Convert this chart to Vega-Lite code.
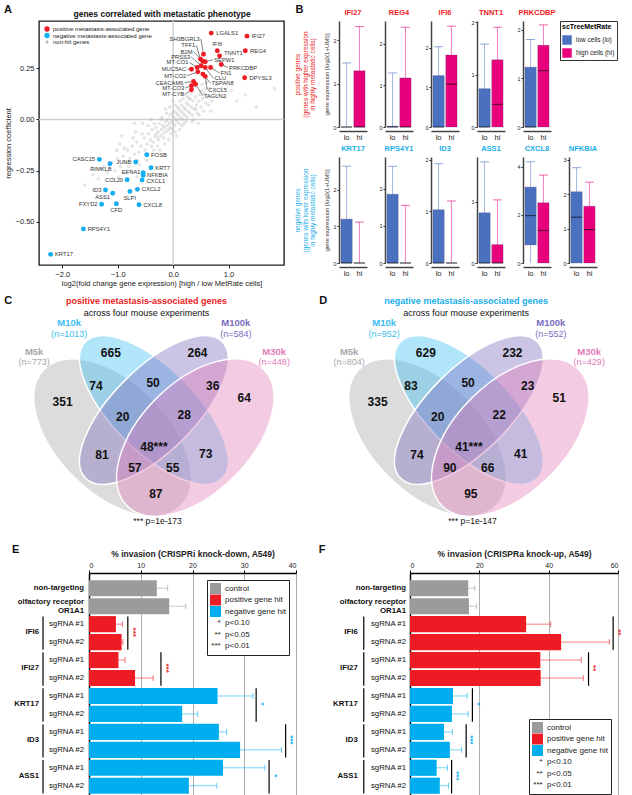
{
"$schema": "https://vega.github.io/schema/vega-lite/v6.json",
"padding": {"left": 3, "top": 3, "right": 0, "bottom": 0},
"config": {
  "font": "Liberation Sans",
  "view": {"stroke": null},
  "axis": {"labelFont": "Liberation Sans", "titleFont": "Liberation Sans", "labelColor": "#222222", "titleColor": "#222222", "domainColor": "#222222", "tickColor": "#222222", "titleFontWeight": "normal", "grid": false},
  "legend": {"labelFont": "Liberation Sans", "titleFont": "Liberation Sans", "labelColor": "#222222"},
  "header": {"labelFont": "Liberation Sans"},
  "title": {"font": "Liberation Sans", "color": "#111111"},
  "text": {"font": "Liberation Sans", "color": "#222222"}
},
"datasets": {
  "cloud": [
    {"x":-0.58,"y":-0.13},{"x":-0.52,"y":-0.09},{"x":-0.47,"y":-0.12},{"x":-0.44,"y":-0.07},{"x":-0.41,"y":-0.10},{"x":-0.38,"y":-0.05},{"x":-0.36,"y":-0.11},{"x":-0.33,"y":-0.08},{"x":-0.31,"y":-0.04},{"x":-0.29,"y":-0.09},
    {"x":-0.27,"y":-0.06},{"x":-0.25,"y":-0.02},{"x":-0.23,"y":-0.08},{"x":-0.21,"y":-0.05},{"x":-0.19,"y":-0.03},{"x":-0.18,"y":-0.07},{"x":-0.16,"y":-0.04},{"x":-0.14,"y":-0.01},{"x":-0.13,"y":-0.06},{"x":-0.11,"y":-0.03},
    {"x":-0.10,"y":0.00},{"x":-0.09,"y":-0.05},{"x":-0.07,"y":-0.02},{"x":-0.06,"y":0.02},{"x":-0.05,"y":-0.04},{"x":-0.03,"y":-0.01},{"x":-0.02,"y":0.03},{"x":0.00,"y":-0.02},{"x":0.01,"y":0.01},{"x":0.02,"y":0.04},
    {"x":0.03,"y":-0.03},{"x":0.05,"y":0.00},{"x":0.06,"y":0.03},{"x":0.07,"y":-0.01},{"x":0.09,"y":0.02},{"x":0.10,"y":0.05},{"x":0.11,"y":-0.02},{"x":0.13,"y":0.01},{"x":0.14,"y":0.04},{"x":0.15,"y":0.07},
    {"x":0.17,"y":0.00},{"x":0.18,"y":0.03},{"x":0.19,"y":0.06},{"x":0.21,"y":0.02},{"x":0.22,"y":0.05},{"x":0.24,"y":0.08},{"x":0.25,"y":0.01},{"x":0.27,"y":0.04},{"x":0.28,"y":0.07},{"x":0.30,"y":0.03},
    {"x":0.31,"y":0.10},{"x":0.33,"y":0.06},{"x":0.35,"y":0.02},{"x":0.36,"y":0.09},{"x":0.38,"y":0.05},{"x":0.40,"y":0.11},{"x":0.42,"y":0.07},{"x":0.44,"y":0.03},{"x":0.46,"y":0.09},{"x":0.48,"y":0.12},
    {"x":0.50,"y":0.06},{"x":0.53,"y":0.10},{"x":0.56,"y":0.13},{"x":0.59,"y":0.08},{"x":0.62,"y":0.11},{"x":-0.62,"y":-0.16},{"x":-0.66,"y":-0.11},{"x":-0.70,"y":-0.17},{"x":-0.74,"y":-0.13},{"x":-0.78,"y":-0.19},
    {"x":0.04,"y":0.07},{"x":-0.04,"y":-0.07},{"x":0.12,"y":-0.05},{"x":-0.12,"y":0.03},{"x":0.20,"y":-0.02},{"x":-0.20,"y":0.01},{"x":0.26,"y":0.11},{"x":-0.28,"y":-0.13},{"x":0.34,"y":-0.01},{"x":-0.35,"y":-0.15},
    {"x":-0.82,"y":-0.15},{"x":-0.86,"y":-0.21},{"x":-0.90,"y":-0.18},{"x":-0.95,"y":-0.23},{"x":-1.00,"y":-0.19},{"x":-1.05,"y":-0.25},{"x":-1.10,"y":-0.21},{"x":-1.18,"y":-0.26},{"x":-1.25,"y":-0.23},{"x":-1.35,"y":-0.29},
    {"x":-0.60,"y":-0.22},{"x":-0.68,"y":-0.06},{"x":-0.55,"y":-0.02},{"x":-0.48,"y":-0.20},{"x":-0.40,"y":0.00},{"x":-0.84,"y":-0.26},{"x":-0.96,"y":-0.12},{"x":-0.75,"y":-0.25},{"x":-1.45,"y":-0.27},{"x":-0.65,"y":-0.28},
    {"x":0.66,"y":0.15},{"x":0.70,"y":0.09},{"x":0.74,"y":0.13},{"x":0.78,"y":0.17},{"x":0.82,"y":0.12},{"x":0.88,"y":0.15},{"x":0.95,"y":0.11},{"x":1.05,"y":0.14},{"x":1.15,"y":0.09},{"x":1.30,"y":0.12},
    {"x":0.60,"y":0.18},{"x":0.52,"y":0.17},{"x":0.45,"y":-0.02},{"x":0.68,"y":0.04},{"x":0.40,"y":0.16},{"x":1.83,"y":0.15},{"x":1.50,"y":0.06},{"x":-1.60,"y":-0.32},{"x":0.20,"y":0.12},{"x":-0.15,"y":-0.12},
    {"x":-0.50,"y":-0.15},{"x":-0.45,"y":-0.03},{"x":-0.39,"y":-0.13},{"x":-0.34,"y":-0.02},{"x":-0.30,"y":-0.07},{"x":-0.26,"y":-0.10},{"x":-0.22,"y":0.00},{"x":-0.17,"y":-0.09},{"x":-0.08,"y":-0.10},{"x":-0.01,"y":-0.05},
    {"x":0.04,"y":-0.06},{"x":0.08,"y":0.06},{"x":0.12,"y":0.09},{"x":0.16,"y":-0.03},{"x":0.23,"y":-0.01},{"x":0.29,"y":0.10},{"x":0.32,"y":0.13},{"x":0.37,"y":0.00},{"x":0.41,"y":0.05},{"x":0.47,"y":0.02},
    {"x":0.51,"y":0.14},{"x":0.55,"y":0.04},{"x":0.58,"y":0.15},{"x":0.64,"y":0.07},{"x":-0.56,"y":-0.07},{"x":-0.64,"y":-0.20},{"x":-0.72,"y":-0.09},{"x":-0.80,"y":-0.23},{"x":-0.88,"y":-0.14},{"x":-0.98,"y":-0.28},
    {"x":-1.02,"y":-0.15},{"x":-1.08,"y":-0.29},{"x":-0.93,"y":-0.08},{"x":-0.70,"y":-0.02},{"x":-0.06,"y":0.06},{"x":0.00,"y":0.09},{"x":-0.14,"y":0.05},{"x":0.06,"y":-0.08},{"x":-0.24,"y":-0.15},{"x":0.18,"y":0.10}
  ],
  "genes": [
    {"g":"LGALS1","c":"pos","x":0.687,"y":0.421,"lx":0.76,"ly":0.421,"s":"R","ld":0},
    {"g":"IFI27","c":"pos","x":1.332,"y":0.406,"lx":1.40,"ly":0.406,"s":"R","ld":0},
    {"g":"REG4","c":"pos","x":1.302,"y":0.335,"lx":1.37,"ly":0.335,"s":"R","ld":0},
    {"g":"DPYSL3","c":"pos","x":1.29,"y":0.203,"lx":1.36,"ly":0.203,"s":"R","ld":0},
    {"g":"IFI6","c":"pos","x":0.796,"y":0.335,"lx":0.796,"ly":0.368,"s":"C","ld":0},
    {"g":"TNNT1","c":"pos","x":0.838,"y":0.31,"lx":0.9,"ly":0.325,"s":"R","ld":0},
    {"g":"PRKCDBP","c":"pos","x":0.868,"y":0.268,"lx":0.99,"ly":0.253,"s":"R","ld":1},
    {"g":"SH3BGRL3","c":"pos","x":0.548,"y":0.318,"lx":0.5,"ly":0.393,"s":"L","ld":1},
    {"g":"TFF1","c":"pos","x":0.494,"y":0.294,"lx":0.416,"ly":0.362,"s":"L","ld":1},
    {"g":"B2M","c":"pos","x":0.536,"y":0.284,"lx":0.368,"ly":0.331,"s":"L","ld":1},
    {"g":"PRSS3","c":"pos","x":0.506,"y":0.262,"lx":0.325,"ly":0.305,"s":"L","ld":1},
    {"g":"MT-CO1","c":"pos","x":0.434,"y":0.253,"lx":0.295,"ly":0.278,"s":"L","ld":1},
    {"g":"MUC5AC","c":"pos","x":0.331,"y":0.245,"lx":0.253,"ly":0.245,"s":"L","ld":1},
    {"g":"MT-CO2","c":"pos","x":0.446,"y":0.232,"lx":0.253,"ly":0.213,"s":"L","ld":1},
    {"g":"CEACAM6","c":"pos","x":0.368,"y":0.185,"lx":0.205,"ly":0.18,"s":"L","ld":1},
    {"g":"MT-CO3","c":"pos","x":0.331,"y":0.164,"lx":0.217,"ly":0.153,"s":"L","ld":1},
    {"g":"MT-CYB","c":"pos","x":0.331,"y":0.145,"lx":0.217,"ly":0.123,"s":"L","ld":1},
    {"g":"SEPW1","c":"pos","x":0.579,"y":0.281,"lx":0.723,"ly":0.291,"s":"R","ld":1},
    {"g":"FN1","c":"pos","x":0.675,"y":0.253,"lx":0.838,"ly":0.226,"s":"R","ld":1},
    {"g":"CLU","c":"pos","x":0.579,"y":0.253,"lx":0.73,"ly":0.2,"s":"R","ld":1},
    {"g":"TSPAN8","c":"pos","x":0.536,"y":0.221,"lx":0.675,"ly":0.177,"s":"R","ld":1},
    {"g":"CXCL5","c":"pos","x":0.579,"y":0.21,"lx":0.615,"ly":0.145,"s":"R","ld":1},
    {"g":"TAGLN2","c":"pos","x":0.404,"y":0.172,"lx":0.536,"ly":0.115,"s":"R","ld":1},
    {"g":"FOSB","c":"neg","x":-0.476,"y":-0.172,"lx":-0.416,"ly":-0.172,"s":"R","ld":0},
    {"g":"CASC15","c":"neg","x":-1.33,"y":-0.195,"lx":-1.39,"ly":-0.195,"s":"L","ld":0},
    {"g":"JUNB","c":"neg","x":-0.675,"y":-0.208,"lx":-0.735,"ly":-0.208,"s":"L","ld":0},
    {"g":"RIMKLB","c":"neg","x":-1.14,"y":-0.216,"lx":-1.09,"ly":-0.24,"s":"L","ld":0},
    {"g":"KRT7","c":"neg","x":-0.4,"y":-0.236,"lx":-0.34,"ly":-0.236,"s":"R","ld":0},
    {"g":"EFNA1","c":"neg","x":-0.54,"y":-0.26,"lx":-0.57,"ly":-0.255,"s":"L","ld":0},
    {"g":"NFKBIA","c":"neg","x":-0.54,"y":-0.273,"lx":-0.49,"ly":-0.27,"s":"R","ld":0},
    {"g":"CCL20","c":"neg","x":-0.83,"y":-0.294,"lx":-0.885,"ly":-0.294,"s":"L","ld":0},
    {"g":"CXCL1","c":"neg","x":-0.56,"y":-0.296,"lx":-0.5,"ly":-0.301,"s":"R","ld":0},
    {"g":"ID3","c":"neg","x":-1.22,"y":-0.344,"lx":-1.275,"ly":-0.344,"s":"L","ld":0},
    {"g":"CXCL2","c":"neg","x":-0.645,"y":-0.341,"lx":-0.585,"ly":-0.341,"s":"R","ld":0},
    {"g":"ASS1","c":"neg","x":-1.09,"y":-0.36,"lx":-1.12,"ly":-0.38,"s":"L","ld":0},
    {"g":"SLPI","c":"neg","x":-0.78,"y":-0.351,"lx":-0.783,"ly":-0.382,"s":"C","ld":0},
    {"g":"FXYD2","c":"neg","x":-1.29,"y":-0.414,"lx":-1.345,"ly":-0.414,"s":"L","ld":0},
    {"g":"CFD","c":"neg","x":-1.025,"y":-0.411,"lx":-1.025,"ly":-0.442,"s":"C","ld":0},
    {"g":"CXCL8","c":"neg","x":-0.615,"y":-0.416,"lx":-0.555,"ly":-0.416,"s":"R","ld":0},
    {"g":"RPS4Y1","c":"neg","x":-1.62,"y":-0.534,"lx":-1.56,"ly":-0.534,"s":"R","ld":0},
    {"g":"KRT17","c":"neg","x":-2.21,"y":-0.658,"lx":-2.15,"ly":-0.658,"s":"R","ld":0}
  ],
  "box": [
    {"s":"pos","gene":"IFI27","grp":"lo","lw":0,"q1":0,"med":0,"q3":0,"uw":1.48,"ymax":2.45},
    {"s":"pos","gene":"IFI27","grp":"hi","lw":0,"q1":0,"med":0,"q3":1.3,"uw":2.32,"ymax":2.45},
    {"s":"pos","gene":"REG4","grp":"lo","lw":0,"q1":0,"med":0,"q3":0.02,"uw":1.3,"ymax":2.55},
    {"s":"pos","gene":"REG4","grp":"hi","lw":0,"q1":0,"med":0,"q3":1.18,"uw":2.4,"ymax":2.55},
    {"s":"pos","gene":"IFI6","grp":"lo","lw":0,"q1":0,"med":0,"q3":1.3,"uw":2.03,"ymax":2.68},
    {"s":"pos","gene":"IFI6","grp":"hi","lw":0,"q1":0,"med":1.08,"q3":1.82,"uw":2.55,"ymax":2.68},
    {"s":"pos","gene":"TNNT1","grp":"lo","lw":0,"q1":0,"med":0,"q3":0.73,"uw":1.58,"ymax":2.02},
    {"s":"pos","gene":"TNNT1","grp":"hi","lw":0,"q1":0,"med":0.43,"q3":1.28,"uw":1.9,"ymax":2.02},
    {"s":"pos","gene":"PRKCDBP","grp":"lo","lw":0,"q1":0,"med":0,"q3":1.23,"uw":1.8,"ymax":2.18},
    {"s":"pos","gene":"PRKCDBP","grp":"hi","lw":0,"q1":0,"med":1.16,"q3":1.68,"uw":2.1,"ymax":2.18},
    {"s":"neg","gene":"KRT17","grp":"lo","lw":0,"q1":0,"med":0,"q3":1.2,"uw":2.65,"ymax":2.9},
    {"s":"neg","gene":"KRT17","grp":"hi","lw":0,"q1":0,"med":0,"q3":0,"uw":1.12,"ymax":2.9},
    {"s":"neg","gene":"RPS4Y1","grp":"lo","lw":0,"q1":0,"med":0,"q3":1.85,"uw":2.6,"ymax":2.85},
    {"s":"neg","gene":"RPS4Y1","grp":"hi","lw":0,"q1":0,"med":0,"q3":0,"uw":1.55,"ymax":2.85},
    {"s":"neg","gene":"ID3","grp":"lo","lw":0,"q1":0,"med":0,"q3":1.03,"uw":1.92,"ymax":2.05},
    {"s":"neg","gene":"ID3","grp":"hi","lw":0,"q1":0,"med":0,"q3":0,"uw":1.2,"ymax":2.05},
    {"s":"neg","gene":"ASS1","grp":"lo","lw":0,"q1":0,"med":0,"q3":0.82,"uw":1.65,"ymax":1.73},
    {"s":"neg","gene":"ASS1","grp":"hi","lw":0,"q1":0,"med":0,"q3":0.3,"uw":1.03,"ymax":1.73},
    {"s":"neg","gene":"CXCL8","grp":"lo","lw":0,"q1":0.75,"med":1.97,"q3":3.15,"uw":4.2,"ymax":4.4},
    {"s":"neg","gene":"CXCL8","grp":"hi","lw":0,"q1":0,"med":1.35,"q3":2.5,"uw":3.65,"ymax":4.4},
    {"s":"neg","gene":"NFKBIA","grp":"lo","lw":0,"q1":0,"med":1.33,"q3":2.07,"uw":2.77,"ymax":3.08},
    {"s":"neg","gene":"NFKBIA","grp":"hi","lw":0,"q1":0,"med":0.97,"q3":1.65,"uw":2.35,"ymax":3.08}
  ],
  "venn": [
    {"p":"C","k":"ell","set":"M5k","x":0.35,"y":0.47},
    {"p":"C","k":"ell","set":"M10k","x":0.5,"y":0.57},
    {"p":"C","k":"ell","set":"M100k","x":0.5,"y":0.57},
    {"p":"C","k":"ell","set":"M30k","x":0.65,"y":0.47},
    {"p":"D","k":"ell","set":"M5k","x":0.35,"y":0.47},
    {"p":"D","k":"ell","set":"M10k","x":0.5,"y":0.57},
    {"p":"D","k":"ell","set":"M100k","x":0.5,"y":0.57},
    {"p":"D","k":"ell","set":"M30k","x":0.65,"y":0.47},
    {"p":"C","k":"num","t":"351","x":0.169,"y":0.597},
    {"p":"C","k":"num","t":"665","x":0.344,"y":0.776},
    {"p":"C","k":"num","t":"264","x":0.658,"y":0.776},
    {"p":"C","k":"num","t":"64","x":0.827,"y":0.613},
    {"p":"C","k":"num","t":"74","x":0.29,"y":0.658},
    {"p":"C","k":"num","t":"50","x":0.497,"y":0.668},
    {"p":"C","k":"num","t":"36","x":0.713,"y":0.658},
    {"p":"C","k":"num","t":"81","x":0.312,"y":0.408},
    {"p":"C","k":"num","t":"20","x":0.387,"y":0.543},
    {"p":"C","k":"num","t":"28","x":0.61,"y":0.553},
    {"p":"C","k":"num","t":"73","x":0.688,"y":0.41},
    {"p":"C","k":"num","t":"57","x":0.431,"y":0.358},
    {"p":"C","k":"num","t":"55","x":0.568,"y":0.358},
    {"p":"C","k":"num","t":"48***","x":0.5,"y":0.434},
    {"p":"C","k":"num","t":"87","x":0.507,"y":0.265},
    {"p":"D","k":"num","t":"335","x":0.169,"y":0.597},
    {"p":"D","k":"num","t":"629","x":0.344,"y":0.776},
    {"p":"D","k":"num","t":"232","x":0.658,"y":0.776},
    {"p":"D","k":"num","t":"51","x":0.827,"y":0.613},
    {"p":"D","k":"num","t":"83","x":0.29,"y":0.658},
    {"p":"D","k":"num","t":"50","x":0.497,"y":0.668},
    {"p":"D","k":"num","t":"23","x":0.713,"y":0.658},
    {"p":"D","k":"num","t":"74","x":0.312,"y":0.408},
    {"p":"D","k":"num","t":"20","x":0.387,"y":0.543},
    {"p":"D","k":"num","t":"22","x":0.61,"y":0.553},
    {"p":"D","k":"num","t":"41","x":0.688,"y":0.41},
    {"p":"D","k":"num","t":"90","x":0.431,"y":0.358},
    {"p":"D","k":"num","t":"66","x":0.568,"y":0.358},
    {"p":"D","k":"num","t":"41***","x":0.5,"y":0.434},
    {"p":"D","k":"num","t":"95","x":0.507,"y":0.265},
    {"p":"C","k":"set","set":"M5k","t":"M5k","x":0.066,"y":0.781},
    {"p":"C","k":"set","set":"M10k","t":"M10k","x":0.193,"y":0.884},
    {"p":"C","k":"set","set":"M100k","t":"M100k","x":0.797,"y":0.884},
    {"p":"C","k":"set","set":"M30k","t":"M30k","x":0.936,"y":0.781},
    {"p":"C","k":"n","set":"M5k","t":"(n=773)","x":0.066,"y":0.745},
    {"p":"C","k":"n","set":"M10k","t":"(n=1013)","x":0.193,"y":0.845},
    {"p":"C","k":"n","set":"M100k","t":"(n=584)","x":0.797,"y":0.845},
    {"p":"C","k":"n","set":"M30k","t":"(n=448)","x":0.936,"y":0.745},
    {"p":"D","k":"set","set":"M5k","t":"M5k","x":0.066,"y":0.781},
    {"p":"D","k":"set","set":"M10k","t":"M10k","x":0.193,"y":0.884},
    {"p":"D","k":"set","set":"M100k","t":"M100k","x":0.797,"y":0.884},
    {"p":"D","k":"set","set":"M30k","t":"M30k","x":0.936,"y":0.781},
    {"p":"D","k":"n","set":"M5k","t":"(n=804)","x":0.066,"y":0.745},
    {"p":"D","k":"n","set":"M10k","t":"(n=952)","x":0.193,"y":0.845},
    {"p":"D","k":"n","set":"M100k","t":"(n=552)","x":0.797,"y":0.845},
    {"p":"D","k":"n","set":"M30k","t":"(n=429)","x":0.936,"y":0.745},
    {"p":"C","k":"head","set":"pos","t":"positive metastasis-associated genes","x":0.473,"y":0.965},
    {"p":"D","k":"head","set":"neg","t":"negative metastasis-associated genes","x":0.49,"y":0.965},
    {"p":"C","k":"sub","t":"across four mouse experiments","x":0.473,"y":0.92},
    {"p":"D","k":"sub","t":"across four mouse experiments","x":0.49,"y":0.92},
    {"p":"C","k":"pv","t":"*** p=1e-173","x":0.513,"y":0.167},
    {"p":"D","k":"pv","t":"*** p=1e-147","x":0.513,"y":0.167},
    {"p":"C","k":"let","t":"C","x":-0.042,"y":0.966},
    {"p":"D","k":"let","t":"D","x":-0.042,"y":0.966}
  ],
  "inv": [
    {"p":"E","row":"nt","lab":"non-targeting","grp":"control","val":13.1,"err":15.2},
    {"p":"E","row":"or","lab":"olfactory receptor\nOR1A1","grp":"control","val":15.5,"err":18.7},
    {"p":"E","row":"IFI6_1","lab":"sgRNA #1","grp":"positive gene hit","val":5.2,"err":6.45},
    {"p":"E","row":"IFI6_2","lab":"sgRNA #2","grp":"positive gene hit","val":6.3,"err":6.55},
    {"p":"E","row":"IFI27_1","lab":"sgRNA #1","grp":"positive gene hit","val":5.7,"err":6.95},
    {"p":"E","row":"IFI27_2","lab":"sgRNA #2","grp":"positive gene hit","val":8.9,"err":12.4},
    {"p":"E","row":"KRT17_1","lab":"sgRNA #1","grp":"negative gene hit","val":24.85,"err":31.7},
    {"p":"E","row":"KRT17_2","lab":"sgRNA #2","grp":"negative gene hit","val":18.0,"err":21.0},
    {"p":"E","row":"ID3_1","lab":"sgRNA #1","grp":"negative gene hit","val":25.1,"err":26.6},
    {"p":"E","row":"ID3_2","lab":"sgRNA #2","grp":"negative gene hit","val":29.2,"err":37.2},
    {"p":"E","row":"ASS1_1","lab":"sgRNA #1","grp":"negative gene hit","val":25.9,"err":34.0},
    {"p":"E","row":"ASS1_2","lab":"sgRNA #2","grp":"negative gene hit","val":19.3,"err":24.7},
    {"p":"F","row":"nt","lab":"non-targeting","grp":"control","val":16.8,"err":18.7},
    {"p":"F","row":"or","lab":"olfactory receptor\nOR1A1","grp":"control","val":17.0,"err":19.2},
    {"p":"F","row":"IFI6_1","lab":"sgRNA #1","grp":"positive gene hit","val":33.5,"err":40.6},
    {"p":"F","row":"IFI6_2","lab":"sgRNA #2","grp":"positive gene hit","val":43.6,"err":57.5},
    {"p":"F","row":"IFI27_1","lab":"sgRNA #1","grp":"positive gene hit","val":37.6,"err":49.4},
    {"p":"F","row":"IFI27_2","lab":"sgRNA #2","grp":"positive gene hit","val":37.7,"err":50.0},
    {"p":"F","row":"KRT17_1","lab":"sgRNA #1","grp":"negative gene hit","val":12.4,"err":16.5},
    {"p":"F","row":"KRT17_2","lab":"sgRNA #2","grp":"negative gene hit","val":12.1,"err":16.8},
    {"p":"F","row":"ID3_1","lab":"sgRNA #1","grp":"negative gene hit","val":9.8,"err":12.2},
    {"p":"F","row":"ID3_2","lab":"sgRNA #2","grp":"negative gene hit","val":11.5,"err":14.9},
    {"p":"F","row":"ASS1_1","lab":"sgRNA #1","grp":"negative gene hit","val":7.7,"err":10.8},
    {"p":"F","row":"ASS1_2","lab":"sgRNA #2","grp":"negative gene hit","val":8.6,"err":11.1}
  ],
  "grpl": [
    {"gene":"IFI6","r1":"IFI6_1","r2":"IFI6_2"},
    {"gene":"IFI27","r1":"IFI27_1","r2":"IFI27_2"},
    {"gene":"KRT17","r1":"KRT17_1","r2":"KRT17_2"},
    {"gene":"ID3","r1":"ID3_1","r2":"ID3_2"},
    {"gene":"ASS1","r1":"ASS1_1","r2":"ASS1_2"}
  ],
  "sig": [
    {"p":"E","r1":"IFI6_1","r2":"IFI6_2","sx":7.5,"tx":8.5,"stars":"***","grp":"positive gene hit"},
    {"p":"E","r1":"IFI27_1","r2":"IFI27_2","sx":13.9,"tx":14.8,"stars":"***","grp":"positive gene hit"},
    {"p":"E","r1":"KRT17_1","r2":"KRT17_2","sx":32.3,"tx":33.2,"stars":"*","grp":"negative gene hit"},
    {"p":"E","r1":"ID3_1","r2":"ID3_2","sx":38.0,"tx":38.9,"stars":"***","grp":"negative gene hit"},
    {"p":"E","r1":"ASS1_1","r2":"ASS1_2","sx":34.8,"tx":35.7,"stars":"*","grp":"negative gene hit"},
    {"p":"F","r1":"IFI6_1","r2":"IFI6_2","sx":58.6,"tx":59.9,"stars":"**","grp":"positive gene hit"},
    {"p":"F","r1":"IFI27_1","r2":"IFI27_2","sx":51.5,"tx":52.8,"stars":"**","grp":"positive gene hit"},
    {"p":"F","r1":"KRT17_1","r2":"KRT17_2","sx":18.0,"tx":19.2,"stars":"*","grp":"negative gene hit"},
    {"p":"F","r1":"ID3_1","r2":"ID3_2","sx":16.2,"tx":17.4,"stars":"***","grp":"negative gene hit"},
    {"p":"F","r1":"ASS1_1","r2":"ASS1_2","sx":12.0,"tx":13.2,"stars":"***","grp":"negative gene hit"}
  ]
},
"concat": [
  {
    "concat": [
      {
        "width": 245, "height": 244,
        "view": {"stroke": "#222222", "strokeWidth": 1.4},
        "layer": [
          {"data": {"values": [{"x": 0}]}, "mark": {"type": "rule", "color": "#d0d0d0", "strokeWidth": 1.5}, "encoding": {"x": {"field": "x", "type": "quantitative"}}},
          {"data": {"values": [{"y": 0}]}, "mark": {"type": "rule", "color": "#d0d0d0", "strokeWidth": 1.5}, "encoding": {"y": {"field": "y", "type": "quantitative"}}},
          {"data": {"name": "cloud"}, "mark": {"type": "circle", "size": 13, "opacity": 1, "fillOpacity": 0.35},
           "encoding": {
             "x": {"field": "x", "type": "quantitative", "scale": {"domain": [-2.42, 2.0], "nice": false, "zero": false}, "axis": {"values": [-2, -1, 0, 1], "title": "log2(fold change gene expression) [high / low MetRate cells]", "labelFontSize": 7.5, "titleFontSize": 7.5, "tickSize": 3, "titlePadding": 2, "domain": false}},
             "y": {"field": "y", "type": "quantitative", "scale": {"domain": [-0.71, 0.48], "nice": false, "zero": false}, "axis": {"values": [-0.5, -0.25, 0, 0.25], "format": ".2f", "title": "regression coefficient", "labelFontSize": 7.5, "titleFontSize": 7.5, "tickSize": 3, "titlePadding": 3, "domain": false}},
             "color": {"datum": "non"}
           }},
          {"data": {"name": "genes"}, "transform": [{"filter": "datum.ld == 1"}], "mark": {"type": "rule", "color": "#333333", "strokeWidth": 0.6},
           "encoding": {"x": {"field": "x", "type": "quantitative"}, "y": {"field": "y", "type": "quantitative"}, "x2": {"field": "lx"}, "y2": {"field": "ly"}}},
          {"data": {"name": "genes"}, "mark": {"type": "circle", "size": 24, "opacity": 1},
           "encoding": {"x": {"field": "x", "type": "quantitative"}, "y": {"field": "y", "type": "quantitative"},
             "color": {"field": "c", "type": "nominal", "scale": {"domain": ["pos", "neg", "non"], "range": ["#ee1c25", "#14aef0", "#b4b4b4"]},
               "legend": {"orient": "top-left", "title": null, "offset": 4, "padding": 1, "rowPadding": 0.5, "labelFontSize": 6, "symbolSize": 28, "symbolOpacity": 1, "labelOffset": 3, "symbolStrokeWidth": 0, "symbolType": "circle",
                 "labelExpr": "datum.label == 'pos' ? 'positive metastasis-associated gene' : datum.label == 'neg' ? 'negative metastasis-associated gene' : 'non-hit genes'",
                 "encode": {"symbols": {"update": {"size": {"signal": "datum.value === 'non' ? 9 : 28"}, "opacity": {"value": 1}, "fillOpacity": {"value": 1}}}}}}}},
          {"data": {"name": "genes"}, "transform": [{"filter": "datum.s === 'L'"}], "mark": {"type": "text", "align": "right", "baseline": "middle", "dx": -1, "fontSize": 5.8, "color": "#333333"},
           "encoding": {"x": {"field": "lx", "type": "quantitative"}, "y": {"field": "ly", "type": "quantitative"}, "text": {"field": "g"}}},
          {"data": {"name": "genes"}, "transform": [{"filter": "datum.s === 'R'"}], "mark": {"type": "text", "align": "left", "baseline": "middle", "dx": 1, "fontSize": 5.8, "color": "#333333"},
           "encoding": {"x": {"field": "lx", "type": "quantitative"}, "y": {"field": "ly", "type": "quantitative"}, "text": {"field": "g"}}},
          {"data": {"name": "genes"}, "transform": [{"filter": "datum.s === 'C'"}], "mark": {"type": "text", "align": "center", "baseline": "middle", "fontSize": 5.8, "color": "#333333"},
           "encoding": {"x": {"field": "lx", "type": "quantitative"}, "y": {"field": "ly", "type": "quantitative"}, "text": {"field": "g"}}},
          {"data": {"values": [{}]}, "mark": {"type": "text", "text": "A", "align": "left", "baseline": "middle", "fontSize": 11, "fontWeight": "bold", "color": "#111111"},
           "encoding": {"x": {"datum": -3.05}, "y": {"datum": 0.533}}},
          {"data": {"values": [{}]}, "mark": {"type": "text", "text": "genes correlated with metastatic phenotype", "align": "center", "baseline": "middle", "fontSize": 8.5, "fontWeight": "bold", "color": "#111111"},
           "encoding": {"x": {"datum": -0.2}, "y": {"datum": 0.513}}}
        ]
      },
      {
        "title": {"text": "B", "anchor": "start", "frame": "bounds", "fontSize": 11, "fontWeight": "bold", "offset": -6},
        "vconcat": [
          {
            "data": {"name": "box"},
            "transform": [{"filter": "datum.s === 'pos'"}],
            "title": {"text": ["positive genes", "(genes with higher expression", "in highly metastatic cells)"], "subtitle": "gene expression [log2(1+UMI)]", "orient": "left", "anchor": "middle", "color": "#ee1c25", "fontSize": 6.5, "fontWeight": "normal", "lineHeight": 7.5, "subtitleColor": "#333333", "subtitleFontSize": 6, "subtitlePadding": 7, "offset": 3},
            "facet": {"column": {"field": "gene", "type": "nominal", "sort": ["IFI27", "REG4", "IFI6", "TNNT1", "PRKCDBP"], "header": {"title": null, "labelColor": "#ee1c25", "labelFontWeight": "bold", "labelFontSize": 7.5, "labelPadding": 2}}},
            "spacing": 11,
            "resolve": {"scale": {"y": "independent"}},
            "spec": {
              "width": 28, "height": 106,
              "encoding": {"x": {"field": "grp", "type": "nominal", "sort": ["lo", "hi"], "scale": {"paddingInner": 0.12, "paddingOuter": 0.15}, "axis": {"title": null, "labelAngle": 0, "labelFontSize": 7.5, "ticks": false, "labelPadding": 2, "domainColor": "#444444", "domainWidth": 1.5}}},
              "layer": [
                {"mark": {"type": "rule", "strokeWidth": 1, "strokeOpacity": 0.5},
                 "encoding": {"y": {"field": "lw", "type": "quantitative", "scale": {"nice": false, "zero": true}, "axis": {"title": null, "labelFontSize": 5.5, "tickSize": 2, "tickMinStep": 1, "tickCount": 3, "domainColor": "#444444", "domainWidth": 1.5, "labelPadding": 1}}, "y2": {"field": "uw"},
                   "color": {"field": "grp", "type": "nominal", "scale": {"domain": ["lo", "hi"], "range": ["#4a70c0", "#e8007d"]},
                     "legend": {"title": "scTreeMetRate", "orient": "right", "offset": 4, "titleFontSize": 7, "titleFontWeight": "bold", "labelFontSize": 6.5, "symbolType": "square", "symbolSize": 90, "symbolStrokeWidth": 0, "symbolOpacity": 1, "strokeColor": "#333333", "padding": 2, "rowPadding": 3,
                       "labelExpr": "datum.label == 'lo' ? 'low cells (lo)' : 'high cells (hi)'",
                       "encode": {"symbols": {"update": {"opacity": {"value": 1}, "fillOpacity": {"value": 1}}}}}}}},
                {"mark": {"type": "tick", "size": 9, "thickness": 1, "fillOpacity": 0.6}, "encoding": {"y": {"field": "uw", "type": "quantitative"}, "color": {"field": "grp", "type": "nominal"}}},
                {"mark": {"type": "bar", "stroke": "#333366", "strokeWidth": 0.6, "strokeOpacity": 0.4, "opacity": 1}, "encoding": {"y": {"field": "q1", "type": "quantitative"}, "y2": {"field": "q3"}, "color": {"field": "grp", "type": "nominal"}}},
                {"mark": {"type": "tick", "size": 11, "thickness": 1.2, "color": "#000000", "opacity": 0.55}, "encoding": {"y": {"field": "med", "type": "quantitative"}}},
                {"mark": {"type": "point", "opacity": 0}, "encoding": {"y": {"field": "ymax", "type": "quantitative"}}}
              ]
            }
          },
          {
            "data": {"name": "box"},
            "transform": [{"filter": "datum.s === 'neg'"}],
            "title": {"text": ["negative genes", "(genes with lower expression", "in highly metastatic cells)"], "subtitle": "gene expression [log2(1+UMI)]", "orient": "left", "anchor": "middle", "color": "#19aee8", "fontSize": 6.5, "fontWeight": "normal", "lineHeight": 7.5, "subtitleColor": "#333333", "subtitleFontSize": 6, "subtitlePadding": 7, "offset": 3},
            "facet": {"column": {"field": "gene", "type": "nominal", "sort": ["KRT17", "RPS4Y1", "ID3", "ASS1", "CXCL8", "NFKBIA"], "header": {"title": null, "labelColor": "#19aee8", "labelFontWeight": "bold", "labelFontSize": 7.5, "labelPadding": 2}}},
            "spacing": 11,
            "resolve": {"scale": {"y": "independent"}},
            "spec": {
              "width": 28, "height": 106,
              "encoding": {"x": {"field": "grp", "type": "nominal", "sort": ["lo", "hi"], "scale": {"paddingInner": 0.12, "paddingOuter": 0.15}, "axis": {"title": null, "labelAngle": 0, "labelFontSize": 7.5, "ticks": false, "labelPadding": 2, "domainColor": "#444444", "domainWidth": 1.5}}},
              "layer": [
                {"mark": {"type": "rule", "strokeWidth": 1, "strokeOpacity": 0.5},
                 "encoding": {"y": {"field": "lw", "type": "quantitative", "scale": {"nice": false, "zero": true}, "axis": {"title": null, "labelFontSize": 5.5, "tickSize": 2, "tickMinStep": 1, "tickCount": 3, "domainColor": "#444444", "domainWidth": 1.5, "labelPadding": 1}}, "y2": {"field": "uw"},
                   "color": {"field": "grp", "type": "nominal", "scale": {"domain": ["lo", "hi"], "range": ["#4a70c0", "#e8007d"]}, "legend": null}}},
                {"mark": {"type": "tick", "size": 9, "thickness": 1, "fillOpacity": 0.6}, "encoding": {"y": {"field": "uw", "type": "quantitative"}, "color": {"field": "grp", "type": "nominal", "legend": null}}},
                {"mark": {"type": "bar", "stroke": "#333366", "strokeWidth": 0.6, "strokeOpacity": 0.4}, "encoding": {"y": {"field": "q1", "type": "quantitative"}, "y2": {"field": "q3"}, "color": {"field": "grp", "type": "nominal", "legend": null}}},
                {"mark": {"type": "tick", "size": 11, "thickness": 1.2, "color": "#000000", "opacity": 0.55}, "encoding": {"y": {"field": "med", "type": "quantitative"}}},
                {"mark": {"type": "point", "opacity": 0}, "encoding": {"y": {"field": "ymax", "type": "quantitative"}}}
              ]
            }
          }
        ],
        "spacing": 3,
        "resolve": {"scale": {"y": "independent"}, "legend": {"color": "independent"}}
      }
    ],
    "columns": 2,
    "align": "none",
    "spacing": 9,
    "resolve": {"scale": {"color": "independent", "x": "independent", "y": "independent"}, "legend": {"color": "independent"}}
  },
  {
    "data": {"name": "venn"},
    "facet": {"column": {"field": "p", "type": "nominal", "header": {"labels": false, "title": null}}},
    "spacing": 15,
    "spec": {
      "width": 265, "height": 244,
      "encoding": {
        "x": {"field": "x", "type": "quantitative", "scale": {"domain": [0.0837, 1.0438], "nice": false, "zero": false}, "axis": null},
        "y": {"field": "y", "type": "quantitative", "scale": {"domain": [0.106, 0.99], "nice": false, "zero": false}, "axis": null}
      },
      "layer": [
        {"transform": [{"filter": "datum.k === 'ell'"}],
         "mark": {"type": "point", "filled": true, "opacity": 1, "fillOpacity": 0.4, "stroke": "#ffffff", "strokeWidth": 1.5, "strokeOpacity": 1},
         "encoding": {
           "color": {"field": "set", "type": "nominal", "scale": {"domain": ["M5k", "M10k", "M100k", "M30k", "pos", "neg"], "range": ["#a8a8a8", "#3dbdf0", "#7c6cbf", "#e27cba", "#ee1c25", "#19aee9"]}, "legend": null},
           "shape": {"field": "set", "type": "nominal", "scale": {"domain": ["M5k", "M10k", "M100k", "M30k"], "range": [
             "M 1 0 C 1 0.3156 0.5523 0.5714 0 0.5714 C -0.5523 0.5714 -1 0.3156 -1 0 C -1 -0.3156 -0.5523 -0.5714 0 -0.5714 C 0.5523 -0.5714 1 -0.3156 1 0 Z",
             "M 1 0 C 1 0.2367 0.5523 0.4286 0 0.4286 C -0.5523 0.4286 -1 0.2367 -1 0 C -1 -0.2367 -0.5523 -0.4286 0 -0.4286 C 0.5523 -0.4286 1 -0.2367 1 0 Z",
             "M 1 0 C 1 0.2367 0.5523 0.4286 0 0.4286 C -0.5523 0.4286 -1 0.2367 -1 0 C -1 -0.2367 -0.5523 -0.4286 0 -0.4286 C 0.5523 -0.4286 1 -0.2367 1 0 Z",
             "M 1 0 C 1 0.3156 0.5523 0.5714 0 0.5714 C -0.5523 0.5714 -1 0.3156 -1 0 C -1 -0.3156 -0.5523 -0.5714 0 -0.5714 C 0.5523 -0.5714 1 -0.3156 1 0 Z"]}, "legend": null},
           "size": {"value": 37326},
           "angle": {"condition": {"test": "datum.set === 'M5k' || datum.set === 'M10k'", "value": 45}, "value": -45}
         }},
        {"transform": [{"filter": "datum.k === 'num'"}], "mark": {"type": "text", "fontSize": 12, "fontWeight": "bold", "color": "#111111", "baseline": "middle"}, "encoding": {"text": {"field": "t"}}},
        {"transform": [{"filter": "datum.k === 'set'"}], "mark": {"type": "text", "fontSize": 9.5, "fontWeight": "bold", "baseline": "middle"}, "encoding": {"text": {"field": "t"}, "color": {"field": "set", "type": "nominal", "legend": null}}},
        {"transform": [{"filter": "datum.k === 'n'"}], "mark": {"type": "text", "fontSize": 9, "baseline": "middle"}, "encoding": {"text": {"field": "t"}, "color": {"field": "set", "type": "nominal", "legend": null}}},
        {"transform": [{"filter": "datum.k === 'head'"}], "mark": {"type": "text", "fontSize": 9, "fontWeight": "bold", "baseline": "middle"}, "encoding": {"text": {"field": "t"}, "color": {"field": "set", "type": "nominal", "legend": null}}},
        {"transform": [{"filter": "datum.k === 'sub'"}], "mark": {"type": "text", "fontSize": 9, "color": "#111111", "baseline": "middle"}, "encoding": {"text": {"field": "t"}}},
        {"transform": [{"filter": "datum.k === 'pv'"}], "mark": {"type": "text", "fontSize": 8.5, "color": "#111111", "baseline": "middle"}, "encoding": {"text": {"field": "t"}}},
        {"transform": [{"filter": "datum.k === 'let'"}], "mark": {"type": "text", "fontSize": 11, "fontWeight": "bold", "color": "#111111", "baseline": "middle", "align": "left"}, "encoding": {"text": {"field": "t"}}}
      ]
    }
  },
  {
    "hconcat": [
      {
        "width": 49, "height": 228,
        "encoding": {
          "y": {"field": "row", "type": "nominal", "scale": {"domain": ["nt", "or", "IFI6_1", "IFI6_2", "IFI27_1", "IFI27_2", "KRT17_1", "KRT17_2", "ID3_1", "ID3_2", "ASS1_1", "ASS1_2"], "paddingInner": 0.1, "paddingOuter": 0.4}, "axis": null}
        },
        "layer": [
          {"data": {"name": "inv"}, "transform": [{"filter": "datum.p === 'E' && datum.row !== 'nt' && datum.row !== 'or'"}],
           "mark": {"type": "text", "align": "right", "baseline": "middle", "dx": -4, "fontSize": 7.8, "color": "#111111"},
           "encoding": {"x": {"datum": 1, "type": "quantitative", "scale": {"domain": [0, 1], "nice": false, "zero": false}, "axis": null}, "text": {"field": "lab"}}},
          {"data": {"name": "inv"}, "transform": [{"filter": "datum.p === 'E' && datum.row === 'nt'"}],
           "mark": {"type": "text", "align": "right", "baseline": "middle", "dx": -4, "fontSize": 7.8, "fontWeight": "bold", "color": "#111111"},
           "encoding": {"x": {"datum": 1, "type": "quantitative"}, "text": {"field": "lab"}}},
          {"data": {"name": "inv"}, "transform": [{"filter": "datum.p === 'E' && datum.row === 'or'"}],
           "mark": {"type": "text", "align": "right", "baseline": "middle", "dx": -4, "dy": -4.5, "lineBreak": "\n", "lineHeight": 9, "fontSize": 7.8, "fontWeight": "bold", "color": "#111111"},
           "encoding": {"x": {"datum": 1, "type": "quantitative"}, "text": {"field": "lab"}}},
          {"data": {"name": "grpl"}, "mark": {"type": "rule", "strokeWidth": 1.2, "color": "#000000"},
           "encoding": {"x": {"datum": 0.082, "type": "quantitative"}, "y": {"field": "r1", "type": "nominal", "bandPosition": 0.02}, "y2": {"field": "r2", "bandPosition": 0.98}}},
          {"data": {"name": "grpl"}, "mark": {"type": "text", "align": "right", "baseline": "middle", "fontSize": 7.8, "fontWeight": "bold", "dx": -4, "color": "#111111"},
           "encoding": {"x": {"datum": 0.082, "type": "quantitative"}, "y": {"field": "r1", "type": "nominal", "bandPosition": 1}, "text": {"field": "gene"}}},
          {"data": {"values": [{}]}, "mark": {"type": "text", "text": "E", "align": "left", "baseline": "middle", "fontSize": 11, "fontWeight": "bold", "dy": -38, "color": "#111111"},
           "encoding": {"x": {"datum": -0.55, "type": "quantitative"}, "y": {"datum": "nt", "type": "nominal"}}}
        ]
      },
      {
        "width": 207, "height": 228,
        "layer": [
          {"data": {"name": "inv"}, "transform": [{"filter": "datum.p === 'E'"}], "mark": {"type": "bar"},
           "encoding": {
             "x": {"field": "val", "type": "quantitative", "scale": {"domain": [0, 40], "nice": false}, "axis": {"orient": "top", "values": [0, 10, 20, 30, 40], "title": "% invasion (CRISPRi knock-down, A549)", "titleFontSize": 8.5, "titleFontWeight": "bold", "titlePadding": 3, "labelFontSize": 7, "tickSize": 3, "grid": true, "gridColor": "#9a9a9a", "gridWidth": 0.8, "domainColor": "#000000", "domainWidth": 1.5, "tickColor": "#000000"}},
             "y": {"field": "row", "type": "nominal", "scale": {"domain": ["nt", "or", "IFI6_1", "IFI6_2", "IFI27_1", "IFI27_2", "KRT17_1", "KRT17_2", "ID3_1", "ID3_2", "ASS1_1", "ASS1_2"], "paddingInner": 0.1, "paddingOuter": 0.4},
               "axis": {"title": null, "ticks": false, "labels": false, "domainColor": "#000000", "domainWidth": 1.5}},
             "color": {"field": "grp", "type": "nominal", "scale": {"domain": ["control", "positive gene hit", "negative gene hit", "s1", "s2", "s3"], "range": ["#9b9b9b", "#ed1c24", "#00aeef", "#ffffff", "#ffffff", "#ffffff"]},
               "legend": {"orient": "top-right", "offset": 7, "title": null, "symbolType": "square", "symbolSize": 120, "labelFontSize": 8, "strokeColor": "#222222", "padding": 3, "rowPadding": 0.5, "fillColor": "#ffffff", "symbolStrokeWidth": 0, "labelOffset": 4,
                 "labelExpr": "datum.label == 's1' ? '*\u00a0\u00a0p<0.10' : datum.label == 's2' ? '**\u00a0\u00a0p<0.05' : datum.label == 's3' ? '***\u00a0\u00a0p<0.01' : datum.label",
                 "encode": {"labels": {"update": {"dx": {"signal": "datum.value == 's1' ? -7.5 : datum.value == 's2' ? -10.6 : datum.value == 's3' ? -13.7 : 0"}}}}}}
           }},
          {"data": {"name": "inv"}, "transform": [{"filter": "datum.p === 'E'"}], "mark": {"type": "rule", "strokeWidth": 1, "opacity": 0.55},
           "encoding": {"x": {"field": "val", "type": "quantitative"}, "x2": {"field": "err"}, "y": {"field": "row", "type": "nominal"}, "color": {"field": "grp", "type": "nominal"}}},
          {"data": {"name": "inv"}, "transform": [{"filter": "datum.p === 'E'"}], "mark": {"type": "tick", "size": 6, "thickness": 1, "opacity": 0.6},
           "encoding": {"x": {"field": "err", "type": "quantitative"}, "y": {"field": "row", "type": "nominal"}, "color": {"field": "grp", "type": "nominal"}}},
          {"data": {"name": "sig"}, "transform": [{"filter": "datum.p === 'E'"}], "mark": {"type": "rule", "strokeWidth": 1.2, "color": "#000000"},
           "encoding": {"x": {"field": "sx", "type": "quantitative"}, "y": {"field": "r1", "type": "nominal", "bandPosition": 0.02}, "y2": {"field": "r2", "bandPosition": 0.98}}},
          {"data": {"name": "sig"}, "transform": [{"filter": "datum.p === 'E'"}], "mark": {"type": "text", "angle": 90, "fontSize": 8, "fontWeight": "bold", "baseline": "middle", "align": "center"},
           "encoding": {"x": {"field": "tx", "type": "quantitative"}, "y": {"field": "r1", "type": "nominal", "bandPosition": 1}, "text": {"field": "stars"}, "color": {"field": "grp", "type": "nominal"}}}
        ]
      },
      {
        "width": 112, "height": 228,
        "encoding": {
          "y": {"field": "row", "type": "nominal", "scale": {"domain": ["nt", "or", "IFI6_1", "IFI6_2", "IFI27_1", "IFI27_2", "KRT17_1", "KRT17_2", "ID3_1", "ID3_2", "ASS1_1", "ASS1_2"], "paddingInner": 0.1, "paddingOuter": 0.4}, "axis": null}
        },
        "layer": [
          {"data": {"name": "inv"}, "transform": [{"filter": "datum.p === 'F' && datum.row !== 'nt' && datum.row !== 'or'"}],
           "mark": {"type": "text", "align": "right", "baseline": "middle", "dx": -3, "fontSize": 7.8, "color": "#111111"},
           "encoding": {"x": {"datum": 1, "type": "quantitative", "scale": {"domain": [0, 1], "nice": false, "zero": false}, "axis": null}, "text": {"field": "lab"}}},
          {"data": {"name": "inv"}, "transform": [{"filter": "datum.p === 'F' && datum.row === 'nt'"}],
           "mark": {"type": "text", "align": "right", "baseline": "middle", "dx": -3, "fontSize": 7.8, "fontWeight": "bold", "color": "#111111"},
           "encoding": {"x": {"datum": 1, "type": "quantitative"}, "text": {"field": "lab"}}},
          {"data": {"name": "inv"}, "transform": [{"filter": "datum.p === 'F' && datum.row === 'or'"}],
           "mark": {"type": "text", "align": "right", "baseline": "middle", "dx": -3, "dy": -4.5, "lineBreak": "\n", "lineHeight": 9, "fontSize": 7.8, "fontWeight": "bold", "color": "#111111"},
           "encoding": {"x": {"datum": 1, "type": "quantitative"}, "text": {"field": "lab"}}},
          {"data": {"name": "grpl"}, "mark": {"type": "rule", "strokeWidth": 1.2, "color": "#000000"},
           "encoding": {"x": {"datum": 0.596, "type": "quantitative"}, "y": {"field": "r1", "type": "nominal", "bandPosition": 0.02}, "y2": {"field": "r2", "bandPosition": 0.98}}},
          {"data": {"name": "grpl"}, "mark": {"type": "text", "align": "right", "baseline": "middle", "fontSize": 7.8, "fontWeight": "bold", "dx": -6, "color": "#111111"},
           "encoding": {"x": {"datum": 0.596, "type": "quantitative"}, "y": {"field": "r1", "type": "nominal", "bandPosition": 1}, "text": {"field": "gene"}}},
          {"data": {"values": [{}]}, "mark": {"type": "text", "text": "F", "align": "left", "baseline": "middle", "fontSize": 11, "fontWeight": "bold", "dy": -38, "color": "#111111"},
           "encoding": {"x": {"datum": 0.194, "type": "quantitative"}, "y": {"datum": "nt", "type": "nominal"}}}
        ]
      },
      {
        "width": 208, "height": 228,
        "layer": [
          {"data": {"name": "inv"}, "transform": [{"filter": "datum.p === 'F'"}], "mark": {"type": "bar"},
           "encoding": {
             "x": {"field": "val", "type": "quantitative", "scale": {"domain": [0, 60], "nice": false}, "axis": {"orient": "top", "values": [0, 10, 20, 30, 40, 50, 60], "title": "% invasion (CRISPRa knock-up, A549)", "titleFontSize": 8.5, "titleFontWeight": "bold", "titlePadding": 3, "labelFontSize": 7, "tickSize": 3, "grid": true, "gridColor": "#9a9a9a", "gridWidth": 0.8, "domainColor": "#000000", "domainWidth": 1.5, "tickColor": "#000000"}},
             "y": {"field": "row", "type": "nominal", "scale": {"domain": ["nt", "or", "IFI6_1", "IFI6_2", "IFI27_1", "IFI27_2", "KRT17_1", "KRT17_2", "ID3_1", "ID3_2", "ASS1_1", "ASS1_2"], "paddingInner": 0.1, "paddingOuter": 0.4},
               "axis": {"title": null, "ticks": false, "labels": false, "domainColor": "#000000", "domainWidth": 1.5}},
             "color": {"field": "grp", "type": "nominal", "scale": {"domain": ["control", "positive gene hit", "negative gene hit", "s1", "s2", "s3"], "range": ["#9b9b9b", "#ed1c24", "#00aeef", "#ffffff", "#ffffff", "#ffffff"]},
               "legend": {"orient": "bottom-right", "offset": 7, "title": null, "symbolType": "square", "symbolSize": 120, "labelFontSize": 8, "strokeColor": "#222222", "padding": 3, "rowPadding": 0.5, "fillColor": "#ffffff", "symbolStrokeWidth": 0, "labelOffset": 4,
                 "labelExpr": "datum.label == 's1' ? '*\u00a0\u00a0p<0.10' : datum.label == 's2' ? '**\u00a0\u00a0p<0.05' : datum.label == 's3' ? '***\u00a0\u00a0p<0.01' : datum.label",
                 "encode": {"labels": {"update": {"dx": {"signal": "datum.value == 's1' ? -7.5 : datum.value == 's2' ? -10.6 : datum.value == 's3' ? -13.7 : 0"}}}}}}
           }},
          {"data": {"name": "inv"}, "transform": [{"filter": "datum.p === 'F'"}], "mark": {"type": "rule", "strokeWidth": 1, "opacity": 0.55},
           "encoding": {"x": {"field": "val", "type": "quantitative"}, "x2": {"field": "err"}, "y": {"field": "row", "type": "nominal"}, "color": {"field": "grp", "type": "nominal"}}},
          {"data": {"name": "inv"}, "transform": [{"filter": "datum.p === 'F'"}], "mark": {"type": "tick", "size": 6, "thickness": 1, "opacity": 0.6},
           "encoding": {"x": {"field": "err", "type": "quantitative"}, "y": {"field": "row", "type": "nominal"}, "color": {"field": "grp", "type": "nominal"}}},
          {"data": {"name": "sig"}, "transform": [{"filter": "datum.p === 'F'"}], "mark": {"type": "rule", "strokeWidth": 1.2, "color": "#000000"},
           "encoding": {"x": {"field": "sx", "type": "quantitative"}, "y": {"field": "r1", "type": "nominal", "bandPosition": 0.02}, "y2": {"field": "r2", "bandPosition": 0.98}}},
          {"data": {"name": "sig"}, "transform": [{"filter": "datum.p === 'F'"}], "mark": {"type": "text", "angle": 90, "fontSize": 8, "fontWeight": "bold", "baseline": "middle", "align": "center"},
           "encoding": {"x": {"field": "tx", "type": "quantitative"}, "y": {"field": "r1", "type": "nominal", "bandPosition": 1}, "text": {"field": "stars"}, "color": {"field": "grp", "type": "nominal"}}}
        ]
      }
    ],
    "spacing": 0,
    "resolve": {"scale": {"x": "independent", "y": "independent"}, "legend": {"color": "independent"}}
  }
],
"columns": 1,
"align": "none",
"spacing": 6,
"resolve": {"scale": {"color": "independent", "shape": "independent", "x": "independent", "y": "independent"}, "legend": {"color": "independent"}}
}
